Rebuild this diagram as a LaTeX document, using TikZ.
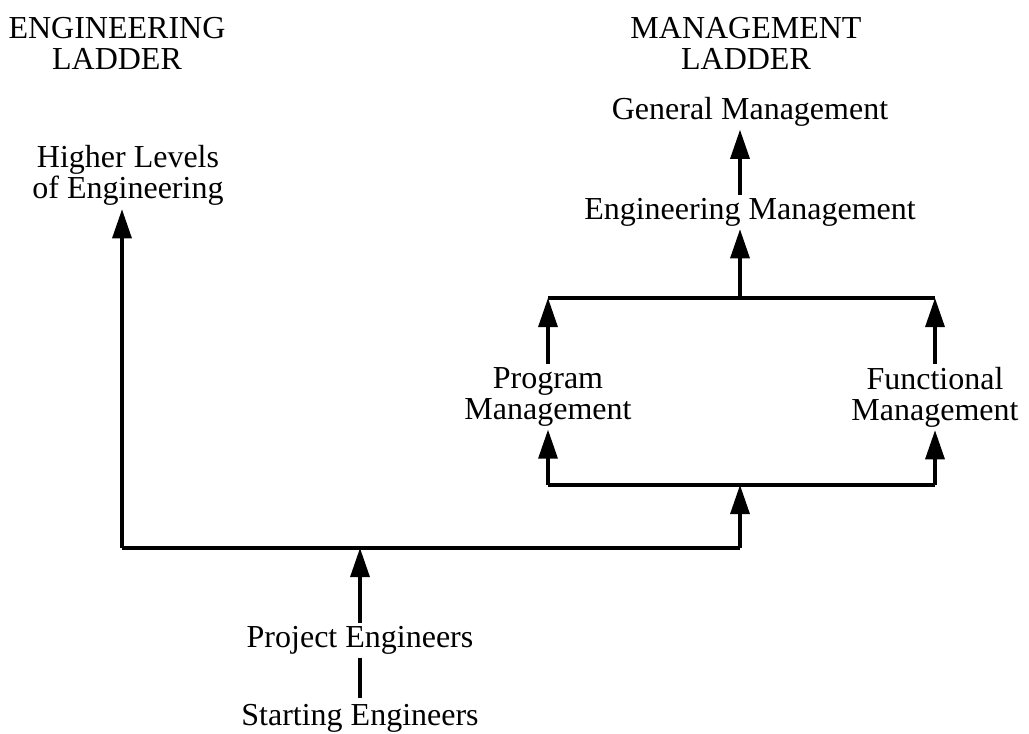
\documentclass[tikz,border=0pt]{standalone}
\usepackage{fontspec}
\setmainfont{Liberation Serif}
\usetikzlibrary{arrows.meta}
\begin{document}
\begin{tikzpicture}[x=1pt,y=-1pt,
  label/.style={align=center,inner sep=0pt,font=\fontsize{32}{31}\selectfont},
  link/.style={line width=3.2pt},
  uparrow/.style={link,-{Triangle[length=29pt,width=19pt]}}]
\useasboundingbox (0,0) rectangle (1029,734);

% headings
\node[label] (engladder) at (117,43) {ENGINEERING\\LADDER};
\node[label] (mgtladder) at (746,43) {MANAGEMENT\\LADDER};

% ladder positions
\node[label] (general) at (750,112) {General Management};
\node[label] (engmgt) at (750,212) {Engineering Management};
\node[label] (program) at (548,397) {Program\\Management};
\node[label] (functional) at (935,397) {Functional\\Management};
\node[label] (higher) at (128,175) {Higher Levels\\of Engineering};
\node[label] (project) at (360,640) {Project Engineers};
\node[label] (starting) at (360,718) {Starting Engineers};

% junction points of the bars
\coordinate (mainL) at (122,548);
\coordinate (mainR) at (740,548);
\coordinate (mainM) at (360,548);
\coordinate (lowL) at (548,485);
\coordinate (lowR) at (935,485);
\coordinate (lowM) at (740,485);
\coordinate (upL) at (548,298);
\coordinate (upR) at (935,298);
\coordinate (upM) at (740,298);

% bars
\draw[link] (mainL) -- (mainR);
\draw[link] (lowL) -- (lowR);
\draw[link] (upL) -- (upR);

% connectors
\draw[link] ([yshift=-4pt]project.south) -- ([yshift=6pt]starting.north);
\draw[uparrow,shorten <=3pt] (project.north) -- (mainM);
\draw[uparrow,shorten >=4pt] (mainL) -- (mainL |- higher.south);
\draw[uparrow] (mainR) -- (lowM);
\draw[uparrow,shorten >=3pt] (lowL) -- (lowL |- program.south);
\draw[uparrow,shorten >=3pt] (lowR) -- (lowR |- functional.south);
\draw[uparrow,shorten <=3pt] (upL |- program.north) -- (upL);
\draw[uparrow,shorten <=3pt] (upR |- functional.north) -- (upR);
\draw[uparrow,shorten >=3pt] (upM) -- (upM |- engmgt.south);
\draw[uparrow,shorten <=3pt,shorten >=3pt] (upM |- engmgt.north) -- (upM |- general.south);
\end{tikzpicture}
\end{document}
